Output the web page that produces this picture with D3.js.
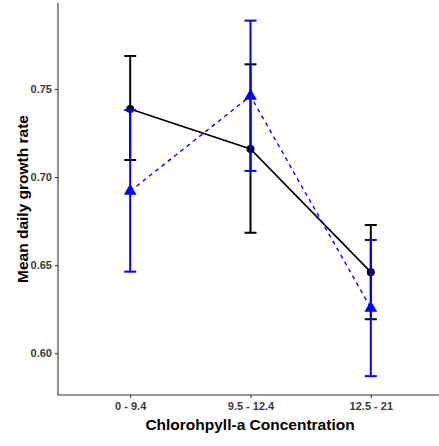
<!DOCTYPE html>
<html lang="en">
<head>
<meta charset="utf-8">
<script src="https://cdnjs.cloudflare.com/ajax/libs/d3/7.8.5/d3.min.js"></script>
<style>
html, body { margin: 0; padding: 0; background: #fff; }
.tick text { font-family: 'Liberation Sans Narrow', 'Liberation Sans', Arial, sans-serif; font-weight: bold; font-size: 11px; fill: #3a3a3a; }
.axis-title { font-family: 'Liberation Sans', Arial, sans-serif; font-weight: bold; font-size: 15.5px; fill: #000; }
</style>
</head>
<body>
<svg width="439" height="446"></svg>
<script>
const categories = ['0 - 9.4', '9.5 - 12.4', '12.5 - 21'];
const yTicks = [0.60, 0.65, 0.70, 0.75];

// black series (circles, solid)
const blackMean = [0.7386, 0.716, 0.646];
const blackLow  = [0.7097, 0.6684, 0.6193];
const blackHigh = [0.7687, 0.764, 0.6728];

// blue series (triangles, dashed)
const blueMean = [0.692, 0.746, 0.6257];
const blueLow  = [0.6463, 0.7035, 0.587];
const blueHigh = [0.738, 0.7888, 0.6643];

const margin = { left: 58, right: 0, top: 3, bottom: 51 };
const width = 439, height = 446;
const svg = d3.select('svg');

const x = d3.scalePoint()
  .domain(categories)
  .range([margin.left, width + 4])
  .padding(0.6);

const y = d3.scaleLinear()
  .domain([0.5763, 0.7988])
  .range([height - margin.bottom, margin.top]);

// axes
const xAxis = svg.append('g')
  .attr('transform', `translate(0, ${height - margin.bottom})`)
  .call(d3.axisBottom(x).tickSize(3).tickPadding(4));
const yAxis = svg.append('g')
  .attr('transform', `translate(${margin.left}, 0)`)
  .call(d3.axisLeft(y).tickValues(yTicks).tickFormat(d3.format('.2f')).tickSize(3).tickPadding(3));

[xAxis, yAxis].forEach(a => {
  a.select('.domain').attr('stroke', '#333').attr('stroke-width', 1.1);
  a.selectAll('.tick line').attr('stroke', '#333').attr('stroke-width', 1.1);
});
xAxis.select('.domain').attr('d', `M${margin.left},0H${width}`);
yAxis.select('.domain').attr('d', `M0,${margin.top}V${height - margin.bottom}`);

svg.append('text')
  .attr('class', 'axis-title')
  .attr('x', 250)
  .attr('y', 430)
  .attr('text-anchor', 'middle')
  .text('Chlorohpyll-a Concentration');

svg.append('text')
  .attr('class', 'axis-title')
  .attr('transform', `translate(28, 199) rotate(-90)`)
  .attr('text-anchor', 'middle')
  .text('Mean daily growth rate');

const series = [
  { mean: blackMean, low: blackLow, high: blackHigh, color: '#000', dash: null, shape: d3.symbolCircle, size: 50, lw: 1.7 },
  { mean: blueMean, low: blueLow, high: blueHigh, color: '#0000ff', dash: '4 4', shape: d3.symbolTriangle, size: 70, lw: 1.4 }
];

series.forEach(s => {
  const g = svg.append('g');
  const pts = categories.map((c, i) => ({ c, m: s.mean[i], lo: s.low[i], hi: s.high[i] }));

  // error bars
  pts.forEach(p => {
    const cx = x(p.c);
    g.append('line')
      .attr('x1', cx).attr('x2', cx)
      .attr('y1', y(p.lo)).attr('y2', y(p.hi))
      .attr('stroke', s.color).attr('stroke-width', 2);
    [p.lo, p.hi].forEach(v => {
      g.append('line')
        .attr('x1', cx - 6).attr('x2', cx + 6)
        .attr('y1', y(v)).attr('y2', y(v))
        .attr('stroke', s.color).attr('stroke-width', 2);
    });
  });

  g.append('path')
    .datum(pts)
    .attr('fill', 'none')
    .attr('stroke', s.color)
    .attr('stroke-width', s.lw)
    .attr('stroke-dasharray', s.dash)
    .attr('d', d3.line().x(p => x(p.c)).y(p => y(p.m)));

  g.selectAll('.pt')
    .data(pts)
    .enter()
    .append('path')
    .attr('transform', p => `translate(${x(p.c)}, ${y(p.m)})`)
    .attr('d', d3.symbol().type(s.shape).size(s.size))
    .attr('fill', s.color);
});
</script>
</body>
</html>
